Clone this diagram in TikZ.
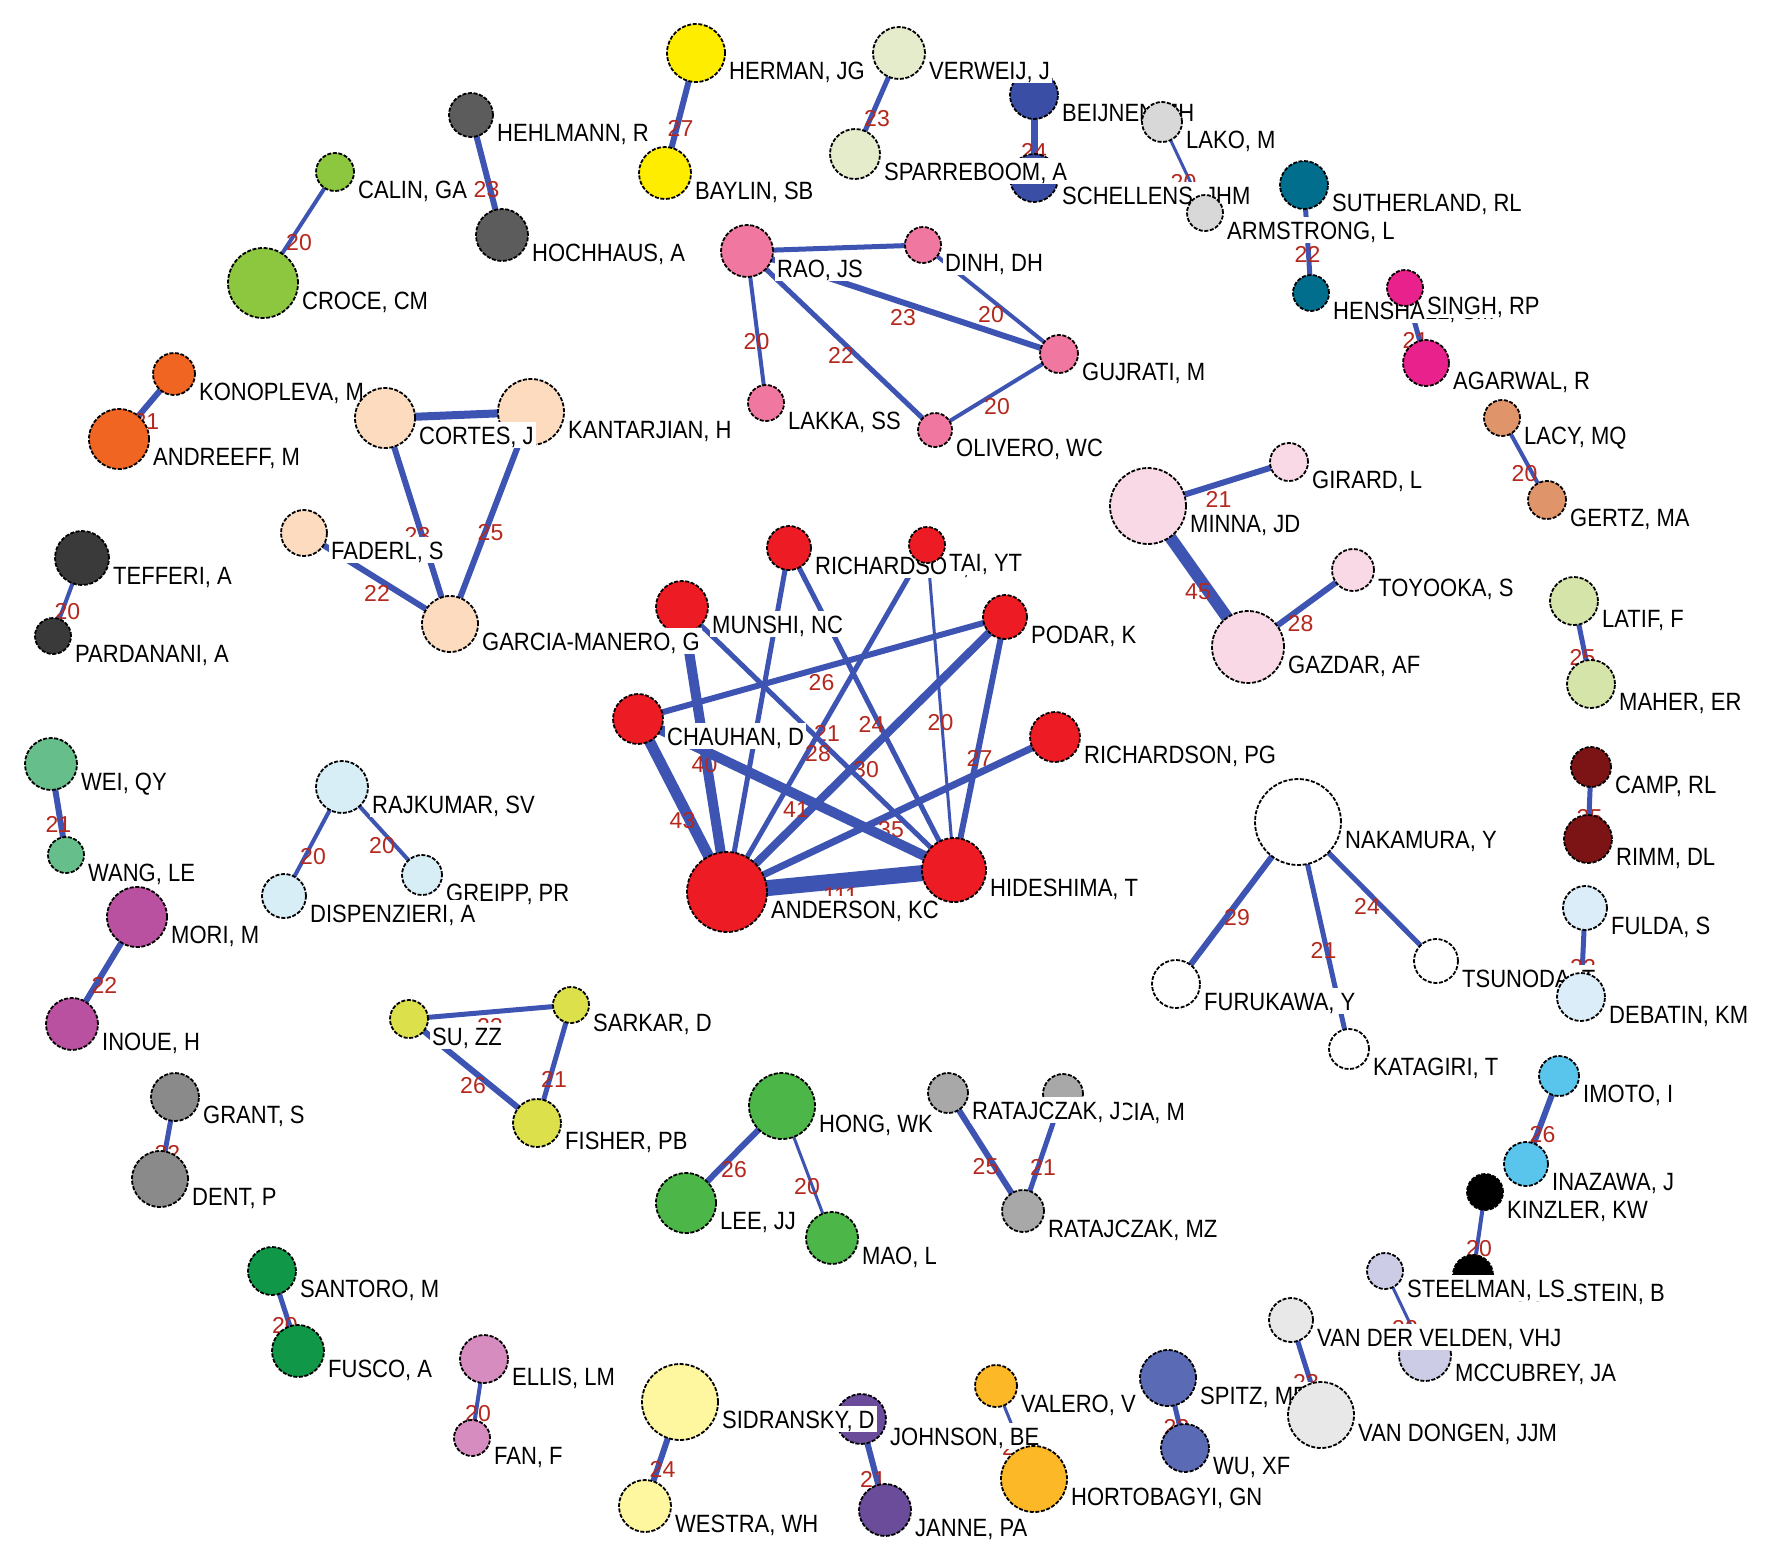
\documentclass[tikz,border=0pt]{standalone}
\usepackage{fontspec}
\newfontfamily\lblfont{Liberation Sans}[FakeStretch=0.88]
\newfontfamily\numfont{Liberation Sans}
\pgfdeclarelayer{bg}
\pgfsetlayers{bg,main}
\definecolor{edgeblue}{RGB}{62,84,178}
\definecolor{numred}{RGB}{180,40,30}
\definecolor{ygreen}{RGB}{141,198,63}
\definecolor{orng}{RGB}{241,101,34}
\definecolor{dgray}{RGB}{92,92,92}
\definecolor{yel}{RGB}{255,237,0}
\definecolor{cream}{RGB}{228,236,204}
\definecolor{blu}{RGB}{58,78,166}
\definecolor{lgray}{RGB}{216,216,216}
\definecolor{teal}{RGB}{0,110,140}
\definecolor{magen}{RGB}{232,33,140}
\definecolor{tan}{RGB}{224,148,106}
\definecolor{pnk}{RGB}{240,120,160}
\definecolor{peach}{RGB}{253,219,191}
\definecolor{lpink}{RGB}{249,217,230}
\definecolor{vdgray}{RGB}{58,58,58}
\definecolor{rd}{RGB}{237,28,36}
\definecolor{pgreen}{RGB}{213,228,168}
\definecolor{dred}{RGB}{124,20,22}
\definecolor{pblue}{RGB}{218,237,249}
\definecolor{mgreen}{RGB}{102,190,138}
\definecolor{purpmag}{RGB}{186,80,160}
\definecolor{pbluetwo}{RGB}{216,238,246}
\definecolor{lime}{RGB}{220,225,75}
\definecolor{gry}{RGB}{138,138,138}
\definecolor{grn}{RGB}{16,152,72}
\definecolor{hgreen}{RGB}{77,182,72}
\definecolor{mgray}{RGB}{168,168,168}
\definecolor{orchid}{RGB}{214,140,190}
\definecolor{pyellow}{RGB}{255,246,160}
\definecolor{purp}{RGB}{106,76,155}
\definecolor{gold}{RGB}{253,184,39}
\definecolor{slate}{RGB}{91,106,181}
\definecolor{vlgray}{RGB}{232,232,232}
\definecolor{lavender}{RGB}{204,204,230}
\definecolor{sky}{RGB}{90,197,236}
\tikzset{
  pn/.style={circle, draw=black, line width=1.8pt, dash pattern=on 4pt off 1.6pt, inner sep=0pt},
  lab/.style={anchor=base west, inner xsep=2pt, inner ysep=4pt, text height=18pt, text depth=0pt,
    fill=white, text=black, font=\lblfont\fontsize{25}{25}\selectfont},
  edge/.style={draw=edgeblue, line cap=butt},
  elab/.style={midway, yshift=-15pt, inner sep=0pt, text=numred, font=\numfont\fontsize{23}{23}\selectfont}
}
\newcommand\nd[6]{%
  \node[pn, minimum size={2*#4}, fill=#5] (#1) at (#2,#3) {};
  \node[lab] (#1l) at ({#2+#4+2},{#3+26}) {#6};}
\newcommand\ed[4]{\draw[edge, line width=#3pt] (#1.center) -- (#2.center) node[elab] (#1-#2) {#4};}
\newcommand\edn[3]{\draw[edge, line width=#3pt] (#1.center) -- (#2.center);}
\begin{document}
\begin{tikzpicture}[x=1pt,y=-1pt]
\useasboundingbox (0,0) rectangle (1772,1564);
% ---------------- nodes ----------------
\nd{calin}{335}{172}{19}{ygreen}{CALIN, GA}
\nd{croce}{263}{283}{35}{ygreen}{CROCE, CM}
\nd{konopleva}{174}{374}{21}{orng}{KONOPLEVA, M}
\nd{andreeff}{119}{439}{30}{orng}{ANDREEFF, M}
\nd{hehlmann}{471}{115}{22}{dgray}{HEHLMANN, R}
\nd{hochhaus}{502}{235}{26}{dgray}{HOCHHAUS, A}
\nd{herman}{696}{53}{29}{yel}{HERMAN, JG}
\nd{baylin}{665}{173}{26}{yel}{BAYLIN, SB}
\nd{beijnen}{1034}{95}{24}{blu}{BEIJNEN, JH}
\nd{schellens}{1034}{178}{24}{blu}{SCHELLENS, JHM}
\nd{verweij}{899}{53}{26}{cream}{VERWEIJ, J}
\nd{sparreboom}{855}{154}{25}{cream}{SPARREBOOM, A}
\nd{lako}{1162}{122}{20}{lgray}{LAKO, M}
\nd{armstrong}{1205}{213}{18}{lgray}{ARMSTRONG, L}
\nd{sutherland}{1304}{185}{24}{teal}{SUTHERLAND, RL}
\nd{henshall}{1311}{293}{18}{teal}{HENSHALL, SM}
\nd{singh}{1405}{288}{18}{magen}{SINGH, RP}
\nd{agarwal}{1426}{363}{23}{magen}{AGARWAL, R}
\nd{lacy}{1502}{418}{18}{tan}{LACY, MQ}
\nd{gertz}{1547}{500}{19}{tan}{GERTZ, MA}
\nd{rao}{747}{251}{26}{pnk}{RAO, JS}
\nd{dinh}{923}{245}{18}{pnk}{DINH, DH}
\nd{gujrati}{1059}{354}{19}{pnk}{GUJRATI, M}
\nd{lakka}{766}{403}{18}{pnk}{LAKKA, SS}
\nd{olivero}{935}{430}{17}{pnk}{OLIVERO, WC}
\nd{kantarjian}{531}{412}{33}{peach}{KANTARJIAN, H}
\nd{cortes}{385}{418}{30}{peach}{CORTES, J}
\nd{faderl}{304}{533}{23}{peach}{FADERL, S}
\nd{munshi}{682}{607}{26}{rd}{MUNSHI, NC}
\nd{garcia}{450}{624}{28}{peach}{GARCIA-MANERO, G}
\nd{minna}{1148}{506}{38}{lpink}{MINNA, JD}
\nd{girard}{1289}{462}{19}{lpink}{GIRARD, L}
\nd{gazdar}{1248}{647}{36}{lpink}{GAZDAR, AF}
\nd{toyooka}{1353}{570}{21}{lpink}{TOYOOKA, S}
\nd{tefferi}{82}{558}{27}{vdgray}{TEFFERI, A}
\nd{pardanani}{53}{636}{18}{vdgray}{PARDANANI, A}
\nd{latif}{1574}{601}{24}{pgreen}{LATIF, F}
\nd{maher}{1591}{684}{24}{pgreen}{MAHER, ER}
\nd{camp}{1591}{767}{20}{dred}{CAMP, RL}
\nd{rimm}{1588}{839}{24}{dred}{RIMM, DL}
\nd{fulda}{1585}{908}{22}{pblue}{FULDA, S}
\nd{tsunoda}{1436}{961}{22}{white}{TSUNODA, T}
\nd{debatin}{1581}{997}{24}{pblue}{DEBATIN, KM}
\nd{nakamura}{1298}{822}{43}{white}{NAKAMURA, Y}
\nd{furukawa}{1176}{984}{24}{white}{FURUKAWA, Y}
\nd{katagiri}{1349}{1049}{20}{white}{KATAGIRI, T}
\nd{wei}{51}{764}{26}{mgreen}{WEI, QY}
\nd{wang}{66}{855}{18}{mgreen}{WANG, LE}
\nd{mori}{137}{917}{30}{purpmag}{MORI, M}
\nd{inoue}{72}{1024}{26}{purpmag}{INOUE, H}
\nd{rajkumar}{342}{787}{26}{pbluetwo}{RAJKUMAR, SV}
\nd{greipp}{422}{875}{20}{pbluetwo}{GREIPP, PR}
\nd{dispenzieri}{284}{896}{22}{pbluetwo}{DISPENZIERI, A}
\nd{richx}{789}{548}{22}{rd}{RICHARDSON, D}
\nd{tai}{927}{545}{18}{rd}{TAI, YT}
\nd{podar}{1005}{617}{22}{rd}{PODAR, K}
\nd{rpg}{1055}{737}{25}{rd}{RICHARDSON, PG}
\nd{chauhan}{638}{719}{25}{rd}{CHAUHAN, D}
\nd{anderson}{727}{892}{40}{rd}{ANDERSON, KC}
\nd{hideshima}{954}{870}{32}{rd}{HIDESHIMA, T}
\nd{su}{409}{1019}{19}{lime}{SU, ZZ}
\nd{sarkar}{571}{1005}{18}{lime}{SARKAR, D}
\nd{fisher}{537}{1123}{24}{lime}{FISHER, PB}
\nd{grant}{175}{1097}{24}{gry}{GRANT, S}
\nd{dent}{160}{1179}{28}{gry}{DENT, P}
\nd{santoro}{272}{1271}{24}{grn}{SANTORO, M}
\nd{fusco}{298}{1351}{26}{grn}{FUSCO, A}
\nd{hong}{782}{1106}{33}{hgreen}{HONG, WK}
\nd{lee}{686}{1203}{30}{hgreen}{LEE, JJ}
\nd{mao}{832}{1238}{26}{hgreen}{MAO, L}
\nd{kucia}{1063}{1094}{20}{mgray}{KUCIA, M}
\nd{ratj}{948}{1093}{20}{mgray}{RATAJCZAK, J}
\nd{ratmz}{1023}{1211}{21}{mgray}{RATAJCZAK, MZ}
\nd{ellis}{484}{1359}{24}{orchid}{ELLIS, LM}
\nd{fan}{472}{1438}{18}{orchid}{FAN, F}
\nd{johnson}{861}{1419}{25}{purp}{JOHNSON, BE}
\nd{sidransky}{680}{1402}{38}{pyellow}{SIDRANSKY, D}
\nd{westra}{645}{1506}{26}{pyellow}{WESTRA, WH}
\nd{janne}{885}{1510}{26}{purp}{JANNE, PA}
\nd{valero}{996}{1386}{21}{gold}{VALERO, V}
\nd{hortobagyi}{1034}{1479}{33}{gold}{HORTOBAGYI, GN}
\nd{spitz}{1168}{1378}{28}{slate}{SPITZ, MR}
\nd{wu}{1185}{1448}{24}{slate}{WU, XF}
\nd{mccubrey}{1425}{1355}{26}{lavender}{MCCUBREY, JA}
\nd{vdv}{1291}{1320}{22}{vlgray}{VAN DER VELDEN, VHJ}
\nd{vdongen}{1321}{1415}{33}{vlgray}{VAN DONGEN, JJM}
\nd{vogel}{1473}{1275}{20}{black}{VOGELSTEIN, B}
\nd{steelman}{1385}{1271}{18}{lavender}{STEELMAN, LS}
\nd{kinzler}{1485}{1192}{18}{black}{KINZLER, KW}
\nd{imoto}{1559}{1076}{20}{sky}{IMOTO, I}
\nd{inazawa}{1526}{1164}{22}{sky}{INAZAWA, J}
% ---------------- edges ----------------
\begin{pgfonlayer}{bg}
\fill[white] (0,0) rectangle (1772,1564);
\ed{calin}{croce}{4}{20}
\ed{konopleva}{andreeff}{6}{21}
\ed{hehlmann}{hochhaus}{6}{23}
\ed{herman}{baylin}{6}{27}
\ed{verweij}{sparreboom}{5}{23}
\ed{beijnen}{schellens}{7}{24}
\ed{lako}{armstrong}{3}{20}
\ed{sutherland}{henshall}{5}{22}
\ed{singh}{agarwal}{5}{21}
\ed{lacy}{gertz}{4}{20}
\edn{rao}{dinh}{5}
\ed{rao}{gujrati}{6}{23}
\ed{dinh}{gujrati}{4}{20}
\ed{rao}{lakka}{4}{20}
\ed{rao}{olivero}{5}{22}
\ed{olivero}{gujrati}{4}{20}
\edn{cortes}{kantarjian}{8}
\ed{cortes}{garcia}{6}{23}
\ed{kantarjian}{garcia}{6}{25}
\ed{faderl}{garcia}{6}{22}
\ed{minna}{girard}{6}{21}
\ed{minna}{gazdar}{12}{45}
\ed{gazdar}{toyooka}{6}{28}
\ed{tefferi}{pardanani}{4}{20}
\ed{latif}{maher}{5}{25}
\ed{camp}{rimm}{5}{25}
\ed{fulda}{debatin}{5}{22}
\ed{wei}{wang}{6}{21}
\ed{mori}{inoue}{6}{22}
\ed{rajkumar}{dispenzieri}{4}{20}
\ed{rajkumar}{greipp}{4}{20}
\ed{su}{sarkar}{5}{23}
\ed{su}{fisher}{6}{26}
\ed{sarkar}{fisher}{5}{21}
\ed{grant}{dent}{5}{22}
\ed{santoro}{fusco}{5}{20}
\ed{hong}{lee}{6}{26}
\ed{hong}{mao}{3}{20}
\ed{ratj}{ratmz}{6}{25}
\ed{kucia}{ratmz}{5}{21}
\ed{nakamura}{furukawa}{6}{29}
\ed{nakamura}{katagiri}{5}{21}
\ed{nakamura}{tsunoda}{5}{24}
\ed{ellis}{fan}{4}{20}
\ed{sidransky}{westra}{6}{24}
\ed{johnson}{janne}{6}{21}
\ed{valero}{hortobagyi}{3}{21}
\ed{spitz}{wu}{5}{23}
\ed{vdv}{vdongen}{5}{23}
\ed{steelman}{mccubrey}{3}{22}
\ed{kinzler}{vogel}{4}{20}
\ed{imoto}{inazawa}{6}{26}
% central cluster
\ed{anderson}{hideshima}{16}{111}
\ed{anderson}{chauhan}{11}{43}
\ed{anderson}{munshi}{10}{40}
\edn{anderson}{richx}{5}
\ed{anderson}{tai}{5}{21}
\ed{anderson}{podar}{8}{30}
\ed{anderson}{rpg}{7}{35}
\ed{chauhan}{hideshima}{10}{41}
\ed{chauhan}{podar}{6}{26}
\ed{munshi}{hideshima}{5}{28}
\ed{richx}{hideshima}{5}{24}
\ed{tai}{hideshima}{3}{20}
\ed{podar}{hideshima}{6}{27}
\end{pgfonlayer}
\end{tikzpicture}
\end{document}
